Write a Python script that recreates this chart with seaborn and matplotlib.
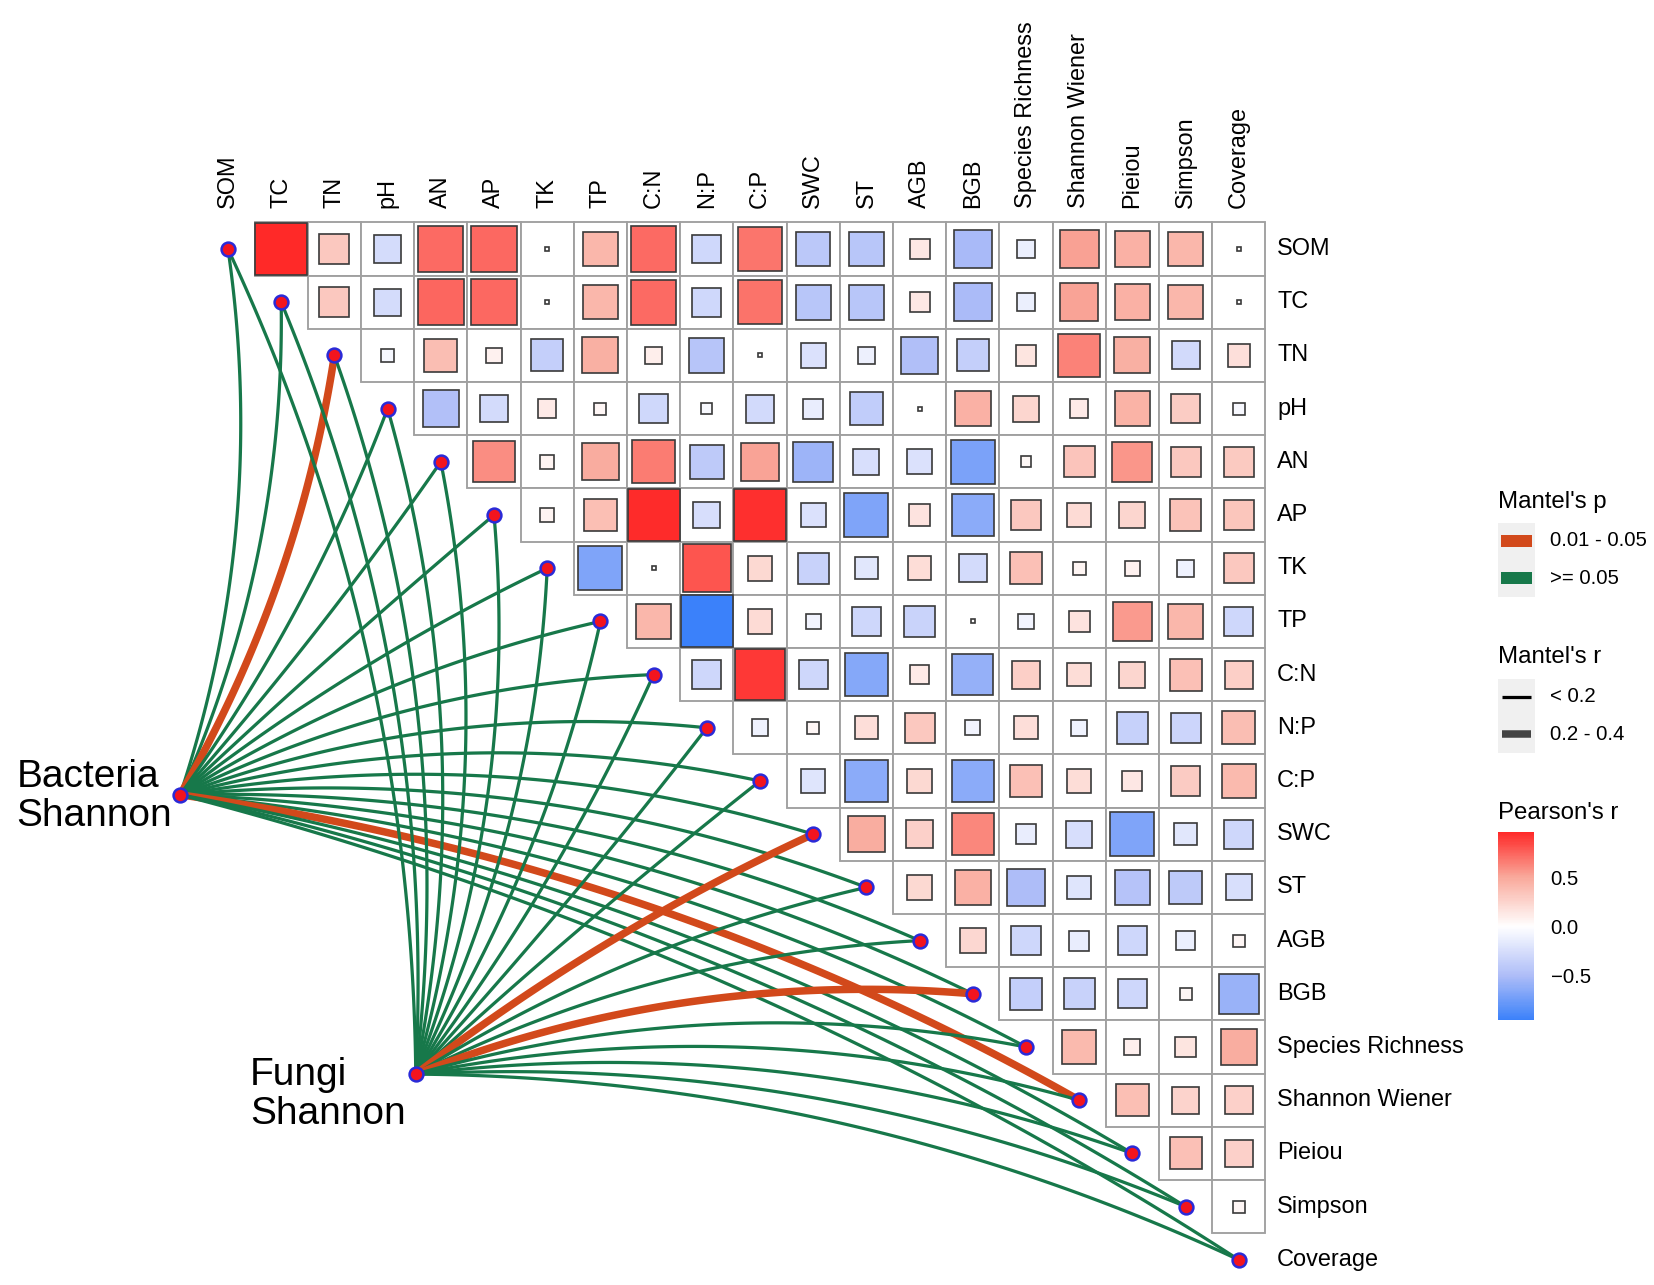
#%%
# ==========================================
# 1. IMPORTS E DADOS
# ==========================================
import numpy as np
import pandas as pd
import matplotlib
matplotlib.use('Agg')
import matplotlib.pyplot as plt
import seaborn as sns
from matplotlib.colors import LinearSegmentedColormap, Normalize
from matplotlib.patches import Rectangle

variaveis = ['SOM', 'TC', 'TN', 'pH', 'AN', 'AP', 'TK', 'TP', 'C:N', 'N:P', 'C:P',
             'SWC', 'ST', 'AGB', 'BGB', 'Species Richness', 'Shannon Wiener',
             'Pieiou', 'Simpson', 'Coverage']

# Pearson's r, triangulo superior (cada linha comeca na variavel seguinte)
r_SOM = [0.96, 0.32, -0.26, 0.72, 0.73, 0.006, 0.42, 0.72, -0.29, 0.68, -0.42, -0.43, 0.14, -0.52, -0.12, 0.53, 0.45, 0.42, 0.006]
r_TC = [0.32, -0.26, 0.74, 0.73, 0.006, 0.42, 0.72, -0.29, 0.69, -0.43, -0.43, 0.14, -0.51, -0.12, 0.52, 0.45, 0.42, 0.006]
r_TN = [-0.06, 0.38, 0.08, -0.36, 0.46, 0.10, -0.44, 0.006, -0.22, -0.11, -0.48, -0.36, 0.15, 0.64, 0.46, -0.28, 0.18]
r_pH = [-0.47, -0.27, 0.12, 0.05, -0.29, -0.04, -0.28, -0.14, -0.38, 0.006, 0.45, 0.24, 0.12, 0.44, 0.29, -0.05]
r_AN = [0.60, 0.07, 0.48, 0.66, -0.40, 0.52, -0.57, -0.24, -0.22, -0.70, 0.04, 0.34, 0.57, 0.32, 0.31]
r_AP = [0.07, 0.37, 0.95, -0.25, 0.93, -0.22, -0.68, 0.16, -0.64, 0.32, 0.21, 0.24, 0.35, 0.33]
r_TK = [-0.68, 0.006, 0.80, 0.22, -0.34, -0.18, 0.20, -0.27, 0.36, 0.06, 0.08, -0.10, 0.32]
r_TP = [0.42, -0.95, 0.21, -0.08, -0.30, -0.33, 0.006, -0.08, 0.16, 0.55, 0.42, -0.30]
r_CN = [-0.30, 0.90, -0.30, -0.66, 0.12, -0.60, 0.28, 0.20, 0.24, 0.36, 0.28]
r_NP = [-0.10, 0.05, 0.19, 0.32, -0.08, 0.19, -0.09, -0.35, -0.32, 0.38]
r_CP = [-0.20, -0.64, 0.22, -0.64, 0.36, 0.20, 0.14, 0.30, 0.40]
r_SWC = [0.47, 0.27, 0.62, -0.14, -0.25, -0.68, -0.18, -0.30]
r_ST = [0.22, 0.45, -0.50, -0.20, -0.45, -0.40, -0.24]
r_AGB = [0.23, -0.30, -0.14, -0.30, -0.12, 0.05]
r_BGB = [-0.36, -0.34, -0.30, 0.05, -0.58]
r_SR = [0.40, 0.09, 0.15, 0.47]
r_SW = [0.37, 0.25, 0.27]
r_Pieiou = [0.36, 0.27]
r_Simpson = [0.05]

# Mantel (classes de p e de r) para cada variavel
P_SIG, P_NS = '0.01 - 0.05', '>= 0.05'
R_BAIXO, R_MEDIO = '< 0.2', '0.2 - 0.4'
bacteria_p = [P_NS, P_NS, P_SIG] + [P_NS] * 13 + [P_SIG, P_NS, P_NS, P_NS]
bacteria_r = [R_BAIXO, R_BAIXO, R_MEDIO] + [R_BAIXO] * 13 + [R_MEDIO, R_BAIXO, R_BAIXO, R_BAIXO]
fungi_p = [P_NS] * 11 + [P_SIG, P_NS, P_NS, P_SIG] + [P_NS] * 5
fungi_r = [R_BAIXO] * 11 + [R_MEDIO, R_BAIXO, R_BAIXO, R_MEDIO] + [R_BAIXO] * 5

#%%
# ==========================================
# 2. TABELA LONGA
# ==========================================
linhas = [r_SOM, r_TC, r_TN, r_pH, r_AN, r_AP, r_TK, r_TP, r_CN, r_NP, r_CP,
          r_SWC, r_ST, r_AGB, r_BGB, r_SR, r_SW, r_Pieiou, r_Simpson]
celulas = []
for i, valores in enumerate(linhas):
    for k, r in enumerate(valores):
        celulas.append({'linha': i, 'coluna': i + 1 + k, 'r': r})
df_cel = pd.DataFrame(celulas)

cores_p = {P_SIG: '#D2491B', P_NS: '#17784A'}
larg_r = {R_BAIXO: 1.55, R_MEDIO: 3.6}

#%%
# ==========================================
# 3. FIGURA
# ==========================================
sns.set_theme(style='white')
plt.rcParams['font.family'] = ['Liberation Sans', 'DejaVu Sans']
plt.rcParams['text.color'] = 'black'

LARG, ALT, DPI = 1654, 1285, 150
X0, Y0, PASSO = 228, 249, 53.2  # pixel do centro da primeira celula e tamanho da celula

fig = plt.figure(figsize=(LARG / DPI, ALT / DPI), dpi=DPI)
ax = fig.add_axes([0, 0, 1, 1])

cmap = LinearSegmentedColormap.from_list(
    'pearson', [(0.0, '#2F7BFA'), (0.25, '#AEBDF8'), (0.5, '#FFFFFF'),
                (0.75, '#F9A99B'), (1.0, '#FF1E1E')])
norm = Normalize(vmin=-1, vmax=1)

# grade + quadrados
for _, c in df_cel.iterrows():
    j, i, r = c['coluna'], c['linha'], c['r']
    ax.add_patch(Rectangle((j - 0.5, i - 0.5), 1, 1, facecolor='white',
                           edgecolor='#A0A0A0', lw=0.9, zorder=1))
    lado = np.sqrt(abs(r))
    ax.add_patch(Rectangle((j - lado / 2, i - lado / 2), lado, lado,
                           facecolor=cmap(norm(r)), edgecolor='#3A3A3A', lw=0.8, zorder=2))

# rotulos
for k, nome in enumerate(variaveis):
    ax.text(k, -0.5 - 0.28, nome, rotation=90, ha='center', va='bottom', fontsize=11.3)
    ax.text(len(variaveis) - 0.5 + 0.22, k, nome, ha='left', va='center', fontsize=11.3)

# nos ambientais
nos = pd.DataFrame({'nome': ['Bacteria\nShannon', 'Fungi\nShannon'],
                    'x': [-0.90, 3.53], 'y': [10.26, 15.51]})


def curva(x0, y0, x1, y1, k=0.12, n=80):
    # bezier quadratica, curvatura muda de lado conforme a inclinacao
    dx, dy = x1 - x0, y1 - y0
    c = k * (dy ** 2 - dx ** 2) / (dx ** 2 + dy ** 2)
    cx = (x0 + x1) / 2 - c * dy
    cy = (y0 + y1) / 2 + c * dx
    t = np.linspace(0, 1, n)
    xs = (1 - t) ** 2 * x0 + 2 * t * (1 - t) * cx + t ** 2 * x1
    ys = (1 - t) ** 2 * y0 + 2 * t * (1 - t) * cy + t ** 2 * y1
    return xs, ys


for (_, no), lista_p, lista_r in zip(nos.iterrows(), [bacteria_p, fungi_p], [bacteria_r, fungi_r]):
    for k in range(len(variaveis)):
        xs, ys = curva(no['x'], no['y'], k, k)
        ax.plot(xs, ys, color=cores_p[lista_p[k]], lw=larg_r[lista_r[k]],
                solid_capstyle='round', zorder=3)

diag = pd.DataFrame({'x': np.arange(len(variaveis)), 'y': np.arange(len(variaveis))})
sns.scatterplot(data=pd.concat([diag, nos[['x', 'y']]]), x='x', y='y', s=44,
                color='#F2141E', edgecolor='#2A2AD8', linewidth=1.2, ax=ax, zorder=5, legend=False)

ax.text(nos.x[0] - 0.15, nos.y[0] + 0.03, nos.nome[0], ha='right', va='center',
        multialignment='left', fontsize=18.7, linespacing=1.1)
ax.text(nos.x[1] - 0.19, nos.y[1] + 0.38, nos.nome[1], ha='right', va='center',
        multialignment='left', fontsize=18.7, linespacing=1.1)

ax.set_xlim(-X0 / PASSO, (LARG - X0) / PASSO)
ax.set_ylim((ALT - Y0) / PASSO, -Y0 / PASSO)
ax.axis('off')

#%%
# ==========================================
# 4. LEGENDAS
# ==========================================
axl = fig.add_axes([0, 0, 1, 1])
axl.set_xlim(0, LARG)
axl.set_ylim(ALT, 0)
axl.axis('off')

LX, KW = 1498, 37
axl.text(LX, 502, "Mantel's p", fontsize=11.5, va='center')
for yk, cls in zip([541, 578], [P_SIG, P_NS]):
    axl.add_patch(Rectangle((LX, yk - 18.5), KW, 37, facecolor='#F0F0F0', edgecolor='none'))
    axl.add_patch(Rectangle((LX + 3, yk - 6), KW - 6, 12, facecolor=cores_p[cls], edgecolor='none'))
    axl.text(LX + KW + 15, yk, cls, fontsize=9.8, va='center')

axl.text(LX, 657, "Mantel's r", fontsize=11.5, va='center')
for yk, cls, cor in zip([697, 734], [R_BAIXO, R_MEDIO], ['black', '#444444']):
    axl.add_patch(Rectangle((LX, yk - 18.5), KW, 37, facecolor='#F0F0F0', edgecolor='none'))
    axl.plot([LX + 4, LX + KW - 4], [yk, yk], color=cor, lw=larg_r[cls], solid_capstyle='butt')
    axl.text(LX + KW + 15, yk, cls, fontsize=9.8, va='center')

axl.text(LX, 813, "Pearson's r", fontsize=11.5, va='center')
rmin, rmax = df_cel['r'].min(), df_cel['r'].max()
cax = fig.add_axes([LX / LARG, 1 - 1020 / ALT, 36 / LARG, (1020 - 832) / ALT])
sm = plt.cm.ScalarMappable(norm=norm, cmap=cmap)
cb = fig.colorbar(sm, cax=cax, boundaries=np.linspace(rmin, rmax, 256), ticks=[-0.5, 0, 0.5])
cb.outline.set_visible(False)
cb.ax.tick_params(length=5, width=1, colors='white', labelcolor='black', direction='in',
                  labelsize=9.8, pad=8, left=True, right=True)
cb.ax.set_yticklabels(['\u22120.5', '0.0', '0.5'])

plt.savefig('out.png', dpi=DPI)
print('ok')
